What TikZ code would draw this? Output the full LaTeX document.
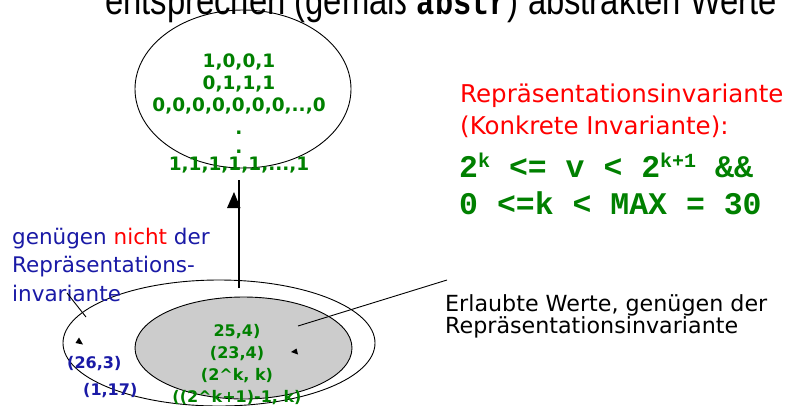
\documentclass[tikz,border=0pt]{standalone}
\usepackage{fontspec}
\usepackage{graphicx}
\setmainfont{DejaVu Sans}
\newfontfamily\headfont{Liberation Sans}
\newfontfamily\codefont{Liberation Mono}
\usetikzlibrary{shapes.geometric}

\definecolor{valgreen}{RGB}{0,128,0}
\definecolor{invred}{RGB}{255,0,0}
\definecolor{notblue}{RGB}{26,26,166}
\definecolor{okgray}{RGB}{204,204,204}

\newcommand\fs[1]{\fontsize{#1}{#1}\selectfont}
\newcommand\codesup[1]{\raisebox{10pt}{\fs{20}#1}}

\tikzset{
  txt/.style={inner sep=0pt, anchor=base west},
  ctxt/.style={inner sep=0pt, anchor=base},
  valtop/.style={ctxt, text=valgreen, font=\bfseries\fs{18.5}},
  valbot/.style={ctxt, text=valgreen, font=\bfseries\fs{16}},
  badval/.style={txt, text=notblue, font=\bfseries\fs{16}},
  notlabel/.style={txt, text=notblue, font=\fs{21.5}},
  invlabel/.style={txt, text=invred, font=\fs{24.5}},
  codeline/.style={txt, text=valgreen, font=\codefont\bfseries\fs{31.5}},
  oklabel/.style={txt, text=black, font=\fs{22.2}},
  valueset/.style={ellipse, draw, inner sep=0pt, line width=0.9pt},
  conn/.style={draw, line width=0.9pt},
}

\begin{document}
\begin{tikzpicture}[x=1pt, y=-1pt]
\useasboundingbox (0,0) rectangle (786,405);
\fill[white] (0,0) rectangle (786,405);

% heading line, partly outside the page
\node[txt] (headline) at (105,14)
  {\scalebox{0.82}[1]{\headfont\fs{40}entsprechen (gemäß {\codefont\bfseries\fs{37}abstr}) abstrakten Werte}};

% abstract values
\node[valueset, minimum width=216, minimum height=158] (abstract) at (243,89) {};
\node[valtop] (a1) at (239,67) {1,0,0,1};
\node[valtop] (a2) at (239,89) {0,1,1,1};
\node[valtop] (a3) at (239,111) {0,0,0,0,0,0,0,..,0};
\node[valtop] (a4) at (239,134) {.};
\node[valtop] (a5) at (239,153) {.};
\node[valtop] (a6) at (239,170) {1,1,1,1,1,...,1};

% representation invariant
\node[invlabel] (inv1) at (460,102) {Repräsentationsinvariante};
\node[invlabel] (inv2) at (460,134) {(Konkrete Invariante):};
\node[codeline] (code1) at (459,177) {2\codesup{k} <= v < 2\codesup{k+1} \&\&};
\node[codeline] (code2) at (459,214) {0 <=k < MAX = 30};

% concrete values
\node[valueset, minimum width=312, minimum height=126] (allvals) at (219,343) {};
\node[valueset, fill=okgray, minimum width=217, minimum height=102] (okvals) at (243.5,348) {};
\node[valbot] (v1) at (237,336) {25,4)};
\node[valbot] (v2) at (237,358) {(23,4)};
\node[valbot] (v3) at (237,380) {(2\textasciicircum k, k)};
\node[valbot] (v4) at (237,402) {((2\textasciicircum k+1)-1, k)};
\node[badval] (b1) at (67,368) {(26,3)};
\node[badval] (b2) at (83,395) {(1,17)};

% labels
\node[notlabel] (n1) at (12,244) {genügen {\color{invred}nicht} der};
\node[notlabel] (n2) at (12,272) {Repräsentations-};
\node[notlabel] (n3) at (12,301) {invariante};
\node[oklabel] (ok1) at (445,311) {Erlaubte Werte, genügen der};
\node[oklabel] (ok2) at (445,333) {Repräsentationsinvariante};

% connectors
\coordinate (afoot) at (239,288);
\coordinate (atop) at (239,180);
\draw[conn, line width=1.6pt] (afoot) -- (atop);
\fill (234,192) -- (227,208) -- (240.5,208) -- cycle;

\coordinate (notend) at (67,293);
\coordinate (notin) at (86,317);
\draw[conn] (notend) -- (notin);

\coordinate (okin) at (298,326);
\coordinate (okend) at (447,280);
\draw[conn] (okin) -- (okend);

% small markers
\fill (79,337.5) -- (75.5,343) -- (83,344.5) -- cycle;
\fill (291,352) -- (296.5,348.5) -- (298,354.5) -- cycle;
\end{tikzpicture}
\end{document}
